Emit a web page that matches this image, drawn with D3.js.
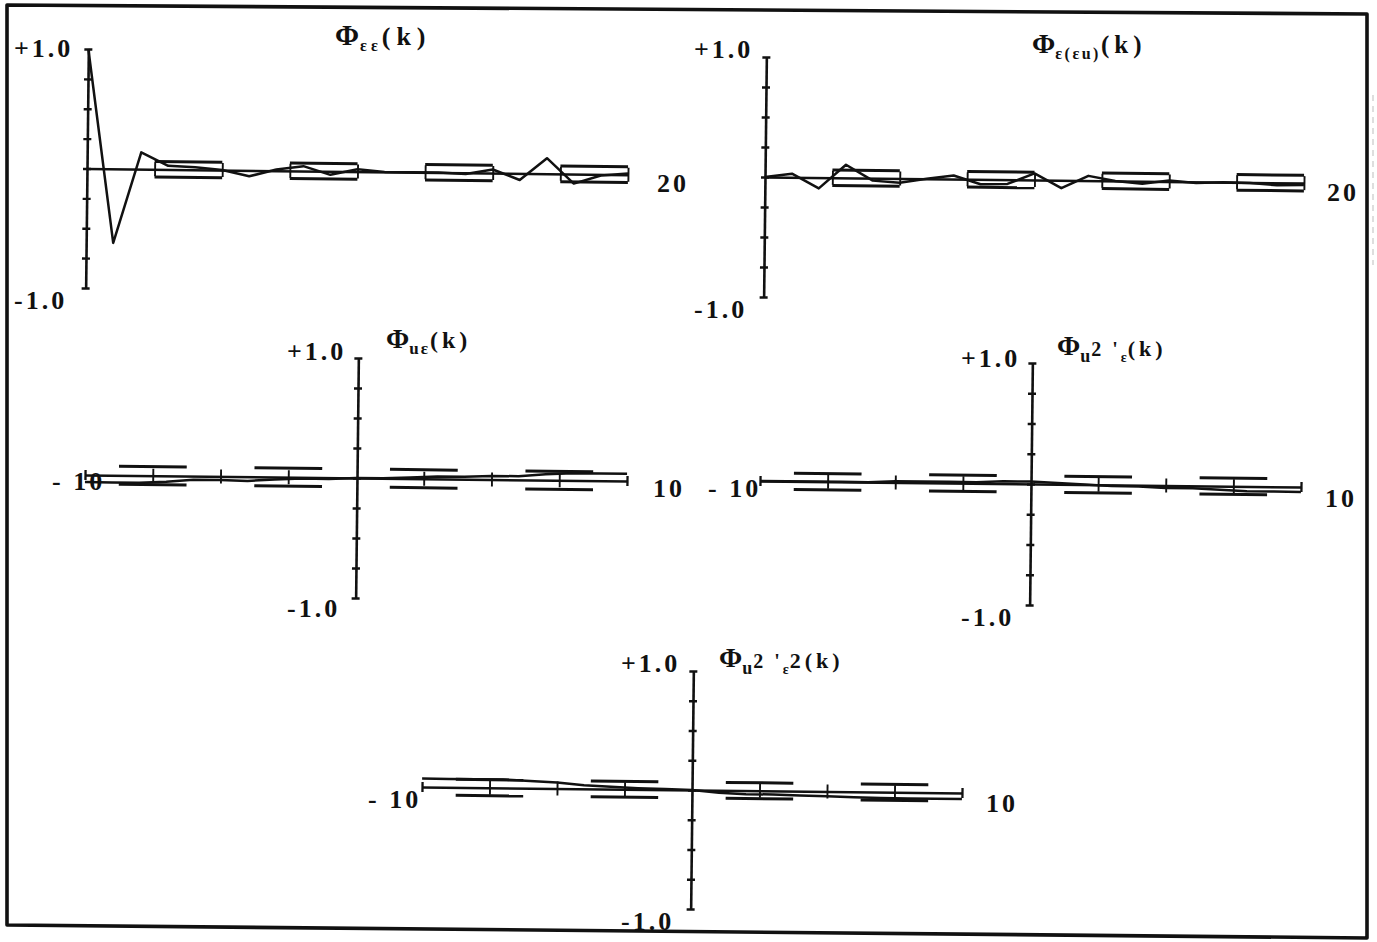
<!DOCTYPE html>
<html><head><meta charset="utf-8">
<script src="https://cdn.jsdelivr.net/npm/d3@7"></script>
<style>body{margin:0;background:#fff}svg{display:block}</style>
</head><body>
<svg id="c" width="1377" height="942"></svg>
<script>
// ---------------- data ----------------
const lagsAuto  = d3.range(0, 21);     // 0 .. 20
const lagsCross = d3.range(-10, 11);   // -10 .. 10

const phiEE    = [1.0,-0.62,0.14,0.03,0.02,0.0,-0.05,0.01,0.04,-0.03,0.02,0.0,0.0,0.0,-0.01,0.03,-0.055,0.13,-0.08,-0.01,0.01];
const phiEEU   = [0.0,0.03,-0.09,0.11,-0.02,-0.035,0.0,0.03,-0.04,-0.035,0.055,-0.065,0.04,0.0,-0.02,0.01,-0.01,0.0,-0.005,-0.02,-0.015];
const phiUE    = [-0.06,-0.06,-0.06,-0.05,-0.03,-0.03,-0.035,-0.02,-0.01,-0.01,0.0,0.0,0.01,0.02,0.02,0.03,0.03,0.05,0.06,0.06,0.06];
const phiU2E   = [0.0,0.0,0.0,0.0,0.0,0.01,0.01,0.01,0.01,0.02,0.02,0.01,0.0,-0.01,-0.01,-0.02,-0.02,-0.03,-0.04,-0.04,-0.04];
const phiU2E2  = [0.07,0.07,0.07,0.07,0.06,0.05,0.03,0.02,0.01,0.005,0.0,-0.02,-0.03,-0.03,-0.035,-0.04,-0.045,-0.05,-0.05,-0.05,-0.05];

const yTickValues     = [-1,-0.75,-0.5,-0.25,0,0.25,0.5,0.75,1];
const autoXTicks      = [2.5,5,7.5,10,12.5,15,17.5,20];
const crossXTicks     = [-10,-7.5,-5,-2.5,2.5,5,7.5,10];
const autoBandSegs    = [[2.5,5],[7.5,10],[12.5,15],[17.5,20]];
const crossBandSegs   = [[-8.75,-6.25],[-3.75,-1.25],[1.25,3.75],[6.25,8.75]];
const confLimits      = [0.065,0.065,0.075,0.067,0.067];
const yTopLabel = "+1.0", yBotLabel = "-1.0";
const autoEndLabel = "20", crossLeftLabel = "- 10", crossRightLabel = "10";

// ---------------- layout ----------------
const INK = "#111";
const svg = d3.select("#c");
svg.append("rect").attr("width",1377).attr("height",942).attr("fill","#fff");

// outer frame (scanned, slightly skewed)
const frame = [[7,5],[1367,14],[1367,938],[7,925]];
svg.append("path").attr("d", d3.line()(frame) + "Z")
  .attr("fill","none").attr("stroke",INK).attr("stroke-width",3.6).attr("stroke-linejoin","round");
// faint scan artifact at right edge
svg.append("line").attr("x1",1373).attr("x2",1373).attr("y1",95).attr("y2",265)
  .attr("stroke","#c8c8c8").attr("stroke-width",1.2).attr("stroke-dasharray","6,5");

const panels = [
  {ox:87,  oy:168.5, half:119.5, domain:[0,20],  range:[0,541],   lags:lagsAuto,  vals:phiEE,  ticks:autoXTicks,  bands:autoBandSegs,
   labels:[[yTopLabel,14,57],[yBotLabel,14,309],[autoEndLabel,657,192]],
   title:{x:335,y:45,parts:[["Φ",29,0,1],["εε",16,6,4],["(k)",26,-6,6]]}},
  {ox:765, oy:177,   half:120,   domain:[0,20],  range:[0,539],   lags:lagsAuto,  vals:phiEEU, ticks:autoXTicks,  bands:autoBandSegs,
   labels:[[yTopLabel,694,58],[yBotLabel,694,318],[autoEndLabel,1327,201]],
   title:{x:1032,y:53,parts:[["Φ",28,0,0],["ε(εu)",16,6,2.5],["(k)",25,-6,5]]}},
  {ox:357, oy:478,   half:120,   domain:[-10,10],range:[-272,270],lags:lagsCross, vals:phiUE,  ticks:crossXTicks, bands:crossBandSegs,
   labels:[[yTopLabel,287,360],[yBotLabel,287,617],[crossLeftLabel,52,490],[crossRightLabel,653,497]],
   title:{x:386,y:348,parts:[["Φ",28,0,0],["uε",17,6,2],["(k)",24,-6,4]]}},
  {ox:1031,oy:484,   half:121,   domain:[-10,10],range:[-271,270],lags:lagsCross, vals:phiU2E, ticks:crossXTicks, bands:crossBandSegs,
   labels:[[yTopLabel,961,367],[yBotLabel,961,626],[crossLeftLabel,708,497],[crossRightLabel,1325,507]],
   title:{x:1057,y:355,parts:[["Φ",28,0,0],["u",18,7,1],["2 '",20,-6,3],["ε",14,6,1],["(k)",22,-6,4]]}},
  {ox:692, oy:790,   half:119,   domain:[-10,10],range:[-270,270],lags:lagsCross, vals:phiU2E2,ticks:crossXTicks, bands:crossBandSegs,
   labels:[[yTopLabel,621,672],[yBotLabel,621,930],[crossLeftLabel,368,808],[crossRightLabel,986,812]],
   title:{x:719,y:667,parts:[["Φ",28,0,0],["u",18,7,1],["2 '",20,-6,3],["ε",14,6,1],["2(k)",22,-6,4]]}}
];

const FONT = "'Liberation Serif','DejaVu Serif',serif";

panels.forEach((p,i) => {
  const x = d3.scaleLinear().domain(p.domain).range(p.range);
  const y = d3.scaleLinear().domain([-1,1]).range([p.half,-p.half]);
  const g = svg.append("g").attr("transform",`translate(${p.ox},${p.oy}) rotate(0.65)`);

  // y axis with crossing ticks
  const ya = g.append("g").call(d3.axisLeft(y).tickValues(yTickValues).tickSize(4).tickSizeOuter(0).tickFormat(""));
  ya.selectAll(".tick line").attr("x1",4).attr("stroke",INK).attr("stroke-width",2.4);
  ya.select(".domain").attr("stroke",INK).attr("stroke-width",2.6);

  // x axis through zero
  const xa = g.append("g").attr("transform",`translate(0,${y(0)})`)
    .call(d3.axisBottom(x).tickValues(p.ticks).tickSize(7).tickSizeOuter(0).tickFormat(""));
  xa.selectAll(".tick line").attr("y1",-7).attr("stroke",INK).attr("stroke-width",1.9);
  xa.selectAll(".tick").filter(d => Math.abs(d) === 10 && p.domain[0] < 0)
    .select("line").attr("y1",-5).attr("y2",5).attr("stroke-width",2.3);
  xa.select(".domain").attr("stroke",INK).attr("stroke-width",2.5);

  // confidence band dashes
  const c = confLimits[i];
  p.bands.forEach(([a,b]) => {
    [c,-c].forEach(v => {
      g.append("line").attr("x1",x(a)).attr("x2",x(b)).attr("y1",y(v)).attr("y2",y(v))
        .attr("stroke",INK).attr("stroke-width",3);
    });
  });

  // data line
  const pts = p.lags.map((k,j) => [k, p.vals[j]]);
  g.append("path").datum(pts)
    .attr("d", d3.line().x(d => x(d[0])).y(d => y(d[1])))
    .attr("fill","none").attr("stroke",INK).attr("stroke-width",2.5).attr("stroke-linejoin","round");

  // labels
  p.labels.forEach(([t,lx,ly]) => {
    svg.append("text").attr("x",lx).attr("y",ly).text(t)
      .attr("font-family",FONT).attr("font-weight","bold").attr("font-size",26)
      .attr("letter-spacing",3).attr("fill",INK);
  });

  // title
  const tt = svg.append("text").attr("x",p.title.x).attr("y",p.title.y)
    .attr("font-family",FONT).attr("font-weight","bold").attr("fill",INK);
  p.title.parts.forEach(([s,fs,dy,ls]) => {
    tt.append("tspan").attr("font-size",fs).attr("dy",dy).attr("letter-spacing",ls).text(s);
  });
});
</script>
</body></html>
